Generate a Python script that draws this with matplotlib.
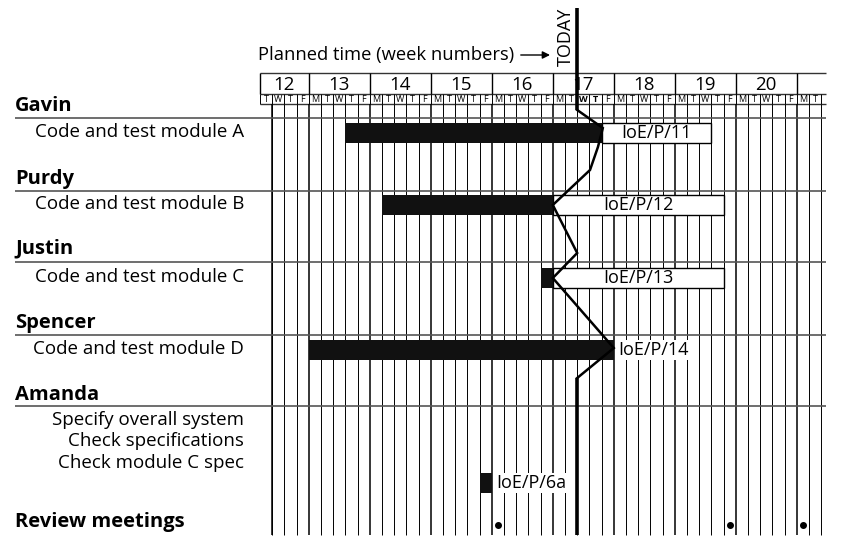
import matplotlib
matplotlib.use("Agg")
import matplotlib.pyplot as plt
from matplotlib import transforms
from matplotlib.patches import Rectangle

plt.rcParams["font.family"] = ["Open Sans", "DejaVu Sans"]

# ── Data ──────────────────────────────────────────────────────────────────
# day 0 = Tuesday of week 12, weekends left out (5 columns per week)
weeks = [12, 13, 14, 15, 16, 17, 18, 19, 20]
week_starts = [0, 4, 9, 14, 19, 24, 29, 34, 39, 44]
n_days = 46
day_letters = ["T", "W", "T", "F"] + ["M", "T", "W", "T", "F"] * 8 + ["M", "T"]
today = 26

people = ["Gavin", "Purdy", "Justin", "Spencer", "Amanda", "Review meetings"]
tasks = ["Code and test module A", "Code and test module B",
         "Code and test module C", "Code and test module D"]
task_start = [7, 10, 23, 4]
task_done = [28, 24, 24, 29]
task_box_end = [37, 38, 38, None]
task_refs = ["IoE/P/11", "IoE/P/12", "IoE/P/13", "IoE/P/14"]

amanda_tasks = ["Specify overall system", "Check specifications",
                "Check module C spec"]
amanda_bar = (18, 19)
amanda_ref = "IoE/P/6a"

review_days = [19.5, 38.5, 44.5]

# progress ("today") line: day positions and the height (px) they are at
progress_x = [26, 26, 28.1, 27.7, 27.05, 24, 26, 24, 29, 26]
progress_y = [110, 110, 128, 147, 170, 205, 253, 278, 348, 378]

# ── Layout (pixels) ─────────────────────────────────────────────────────────
W, H = 862, 552
X0, DW = 260, 12.2           # pixel of day 0, pixels per day
person_y = [106, 179, 248, 323, 395, 522]
sep_y = [118, 191, 262, 335, 406]
task_y = [133, 205, 278, 350]
amanda_y = [420, 441, 463]
amanda_bar_y = 483
bar_h = 20
hdr_top, hdr_mid, hdr_bot = 73, 94, 104
grid_bot = 535

fig = plt.figure(figsize=(W / 100, H / 100), dpi=100)
ax = fig.add_axes([0, 0, 1, 1])
ax.set_xlim(-X0 / DW, (W - X0) / DW)
ax.set_ylim(H, 0)
ax.axis("off")
left = transforms.blended_transform_factory(fig.transFigure, ax.transData)

# header rows
ax.hlines([hdr_top, hdr_mid, hdr_bot], 0, n_days + 0.4, color="#333", lw=1.0)
ax.vlines(week_starts, hdr_top, hdr_mid, color="black", lw=1.0)
ax.vlines(range(n_days + 1), hdr_mid, hdr_bot, color="black", lw=0.7)
for w, s, e in zip(weeks, week_starts[:-1], week_starts[1:]):
    ax.text((s + e) / 2, (hdr_top + hdr_mid) / 2 + 1, str(w), ha="center",
            va="center", fontsize=13.5)
for d, letter in enumerate(day_letters):
    ax.text(d + 0.5, (hdr_mid + hdr_bot) / 2 + 0.5, letter, ha="center",
            va="center", fontsize=6.5,
            fontweight="bold" if d in (today, today + 1) else "normal")

# body grid
day_lines = [d for d in range(1, n_days + 1) if d not in week_starts]
ax.vlines(day_lines, hdr_bot, grid_bot, color="black", lw=0.7)
ax.vlines(week_starts[1:] + [1], hdr_bot, grid_bot, color="black", lw=1.1)
ax.hlines(sep_y, (15 - X0) / DW, n_days + 0.4, color="#555", lw=1.2)

# names and task labels
for name, y in zip(people, person_y):
    ax.text(15 / W, y, name, transform=left, ha="left", va="center",
            fontsize=14.5, fontweight="bold")
for t, y in zip(tasks, task_y):
    ax.text(244 / W, y - 1, t, transform=left, ha="right", va="center",
            fontsize=13.5)
for t, y in zip(amanda_tasks, amanda_y):
    ax.text(244 / W, y, t, transform=left, ha="right", va="center",
            fontsize=13.5)

# task bars and reference boxes
for s, d, e, ref, y in zip(task_start, task_done, task_box_end, task_refs, task_y):
    ax.add_patch(Rectangle((s, y - bar_h / 2), d - s, bar_h,
                           facecolor="#111", edgecolor="none", zorder=3))
    if e is not None:
        ax.add_patch(Rectangle((d, y - bar_h / 2), e - d, bar_h,
                               facecolor="white", edgecolor="black", lw=1.0,
                               zorder=3))
        ax.text((d + e) / 2, y, ref, ha="center", va="center", fontsize=13,
                zorder=4)
    else:
        ax.text(d + 0.4, y, ref, ha="left", va="center", fontsize=13, zorder=4,
                bbox=dict(facecolor="white", edgecolor="none", pad=1.0))

ax.add_patch(Rectangle((amanda_bar[0], amanda_bar_y - bar_h / 2),
                       amanda_bar[1] - amanda_bar[0], bar_h,
                       facecolor="#111", edgecolor="none", zorder=3))
ax.text(amanda_bar[1] + 0.4, amanda_bar_y, amanda_ref, ha="left", va="center",
        fontsize=13, zorder=4,
        bbox=dict(facecolor="white", edgecolor="none", pad=1.0))

# review meetings
ax.plot(review_days, [person_y[-1] + 3] * len(review_days), "o", color="black",
        ms=4, zorder=4)

# today line with progress zigzag
ax.vlines(today, 8, progress_y[0], color="black", lw=2.6, zorder=5)
ax.vlines(today, progress_y[-1], grid_bot, color="black", lw=2.6, zorder=5)
ax.plot(progress_x, progress_y, color="black", lw=1.8, zorder=5,
        solid_joinstyle="miter")
ax.text(today - 0.95, 37, "TODAY", rotation=90, ha="center", va="center",
        fontsize=13)

# planned-time caption with arrow
ax.text(258 / W, 55, "Planned time (week numbers)", transform=left,
        ha="left", va="center", fontsize=13.2)
ax.annotate("", xy=(today - 2, 55), xytext=((518 - X0) / DW, 55),
            arrowprops=dict(arrowstyle="-|>", color="black", lw=1.0,
                            mutation_scale=11))

fig.savefig("out.png", dpi=100)
